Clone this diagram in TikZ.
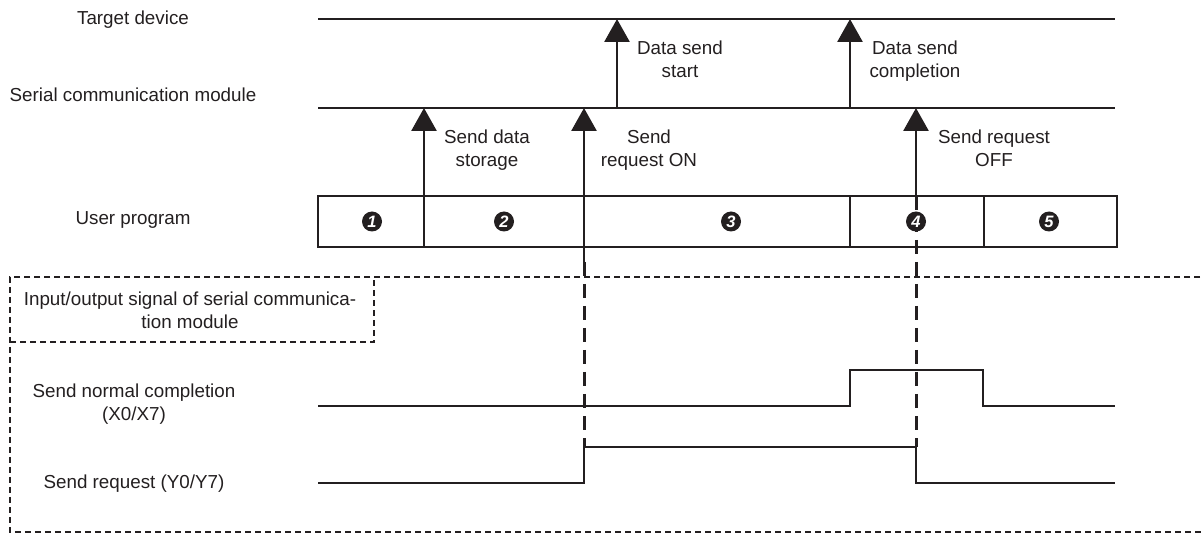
\documentclass[tikz,border=0pt]{standalone}
\usepackage{fontspec}
\setmainfont{Liberation Sans}
\usetikzlibrary{arrows.meta}
\definecolor{ink}{HTML}{231F20}
\begin{document}
\begin{tikzpicture}[x=1pt,y=-1pt,
  lbl/.style={font=\fontsize{18.8}{23}\selectfont, text=ink, inner sep=0pt, align=center},
  tl/.style={line width=1.7pt, draw=ink},
  cell/.style={draw=ink, line width=1.7pt, minimum height=51pt, inner sep=0pt, outer sep=0pt, anchor=north west},
  upar/.style={line width=2.8pt, draw=ink, -{Triangle[width=25pt,length=23pt]}},
  sig/.style={line width=1.6pt, draw=ink},
  vdash/.style={line width=3pt, draw=ink, dash pattern=on 14pt off 8pt},
  bdash/.style={line width=2.6pt, draw=ink, dash pattern=on 6pt off 4pt},
  num/.style={circle, fill=ink, minimum size=20pt, inner sep=0pt, text=white, font=\fontsize{16.5}{16.5}\selectfont\bfseries\itshape}
]
\useasboundingbox (0,0) rectangle (1202,534);
% timelines
\coordinate (tdL) at (318,19); \coordinate (tdR) at (1115,19);
\coordinate (scL) at (318,108); \coordinate (scR) at (1115,108);
\draw[tl] (tdL) -- (tdR);
\draw[tl] (scL) -- (scR);
% left labels
\node[lbl, anchor=base] (ltd) at (133,25) {Target device};
\node[lbl, anchor=base] (lsc) at (133,102) {Serial communication module};
\node[lbl, anchor=base] (lup) at (133,225) {User program};
\node[lbl, anchor=north] (lsn) at (134,384) {Send normal completion\\(X0/X7)};
\node[lbl, anchor=base] (lsr) at (134,488) {Send request (Y0/Y7)};
% user program cells
\node[cell, minimum width=106pt] (c1) at (318,196) {};
\node[cell, minimum width=160pt] (c2) at (c1.north east) {};
\node[cell, minimum width=266pt] (c3) at (c2.north east) {};
\node[cell, minimum width=134pt] (c4) at (c3.north east) {};
\node[cell, minimum width=133pt] (c5) at (c4.north east) {};
% arrows
\coordinate (a1t) at (424,108);
\coordinate (a2b) at (584,262); \coordinate (a2t) at (584,108);
\coordinate (a3b) at (617,108); \coordinate (a3t) at (617,19);
\coordinate (a4b) at (850,108); \coordinate (a4t) at (850,19);
\coordinate (a5t) at (916,108); \coordinate (a5b) at (916,196);
\coordinate (d2e) at (584,447); \coordinate (d5e) at (916,447);
\draw[upar] (c2.north west) -- (a1t);
\draw[upar] (a2b) -- (a2t);
\draw[upar] (a3b) -- (a3t);
\draw[upar] (a4b) -- (a4t);
\draw[upar] (a5b) -- (a5t);
\draw[vdash] (a2b) -- (d2e);
\draw[vdash] (a5b) -- (d5e);
% arrow labels
\node[lbl, anchor=north] (t1) at (487,130) {Send data\\storage};
\node[lbl, anchor=north] (t2) at (649,130) {Send\\request ON};
\node[lbl, anchor=north] (t3) at (680,41) {Data send\\start};
\node[lbl, anchor=north] (t4) at (915,41) {Data send\\completion};
\node[lbl, anchor=north] (t5) at (994,130) {Send request\\OFF};
% numbers
\node[num] (n1) at (372,221.5) {1};
\node[num] (n2) at (504,221.5) {2};
\node[num] (n3) at (731,221.5) {3};
\node[num] (n4) at (916,221.5) {4};
\node[num] (n5) at (1049,221.5) {5};
% signals
\draw[sig] (318,406) -- (850,406) -- (850,370) -- (983,370) -- (983,406) -- (1115,406);
\draw[sig] (318,483) -- (584,483) -- (584,447) -- (916,447) -- (916,483) -- (1115,483);
% dashed frames
\draw[bdash] (1210,277) -- (10,277) -- (10,532) -- (1210,532);
\draw[bdash] (10,342) -- (374,342) -- (374,277);
\node[lbl, anchor=north] (io) at (190,292) {Input/output signal of serial communica-\\tion module};
\end{tikzpicture}
\end{document}
